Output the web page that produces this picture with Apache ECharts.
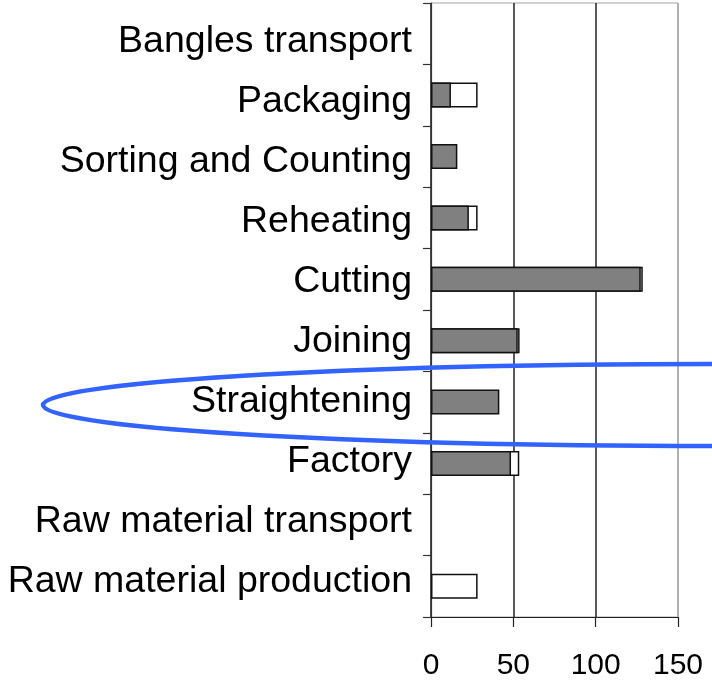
<!DOCTYPE html>
<html>
<head>
<meta charset="utf-8">
<script src="https://cdn.jsdelivr.net/npm/echarts@6/dist/echarts.min.js"></script>
<style>
html, body { margin: 0; padding: 0; background: #fff; }
#chart { width: 712px; height: 684px; }
</style>
</head>
<body>
<div id="chart"></div>
<script>
// categories from bottom to top
var stages = ['Raw material production', 'Raw material transport', 'Factory', 'Straightening',
	'Joining', 'Cutting', 'Reheating', 'Sorting and Counting', 'Packaging', 'Bangles transport'];
// white bars (drawn behind)
var openValues = [28.3, '-', 53.6, '-', 53.8, 128.6, 28.3, '-', 28.3, '-'];
// grey bars (drawn in front)
var greyValues = ['-', '-', 48.6, 41.5, 52.7, 127.4, 23, 16, 12.1, '-'];
var xTicks = [0, 150, 50];

var myChart = echarts.init(document.getElementById('chart'));
var font = '"Liberation Sans", Arial, sans-serif';

// the labels sit a little tighter than the bands, so nudge each one
var labelStyles = {};
for (var i = 0; i < stages.length; i++) {
	var s = 1.5 + (i - 4.5) * 1.45;
	labelStyles['r' + i] = {
		fontSize: 37.5,
		color: '#000',
		fontFamily: font,
		padding: s >= 0 ? [2 * s, 0, 0, 0] : [0, 0, -2 * s, 0]
	};
}

var option = {
	animation: false,
	grid: {
		left: 431,
		right: 34,
		top: 3,
		bottom: 67,
		show: true,
		borderColor: '#a6a6a6',
		borderWidth: 1
	},
	xAxis: {
		type: 'value',
		min: xTicks[0],
		max: xTicks[1],
		interval: xTicks[2],
		axisLine: { show: true, lineStyle: { color: '#222', width: 1.2 } },
		axisTick: { show: true, length: 10, lineStyle: { color: '#222', width: 1.2 } },
		axisLabel: { margin: 34, fontSize: 30, color: '#000', fontFamily: font },
		splitLine: {
			show: true,
			lineStyle: { color: ['#222', '#222', '#222', '#a6a6a6'], width: 1.5 }
		}
	},
	yAxis: {
		type: 'category',
		data: stages,
		axisLine: { show: true, lineStyle: { color: '#333', width: 1.2 } },
		axisTick: { show: true, length: 8, lineStyle: { color: '#333', width: 1.2 } },
		axisLabel: {
			margin: 19,
			formatter: function (v, idx) { return '{r' + idx + '|' + v + '}'; },
			rich: labelStyles
		},
		splitLine: { show: false }
	},
	series: [
		{
			type: 'bar',
			data: openValues,
			barWidth: 25,
			barGap: '-100%',
			itemStyle: { color: '#fff', borderColor: '#111', borderWidth: 1.5 }
		},
		{
			type: 'bar',
			data: greyValues,
			barWidth: 25,
			barGap: '-100%',
			itemStyle: { color: '#808080', borderColor: '#111', borderWidth: 1.5 }
		}
	],
	graphic: [{
		type: 'ellipse',
		z: 100,
		shape: { cx: 713, cy: 405, rx: 670, ry: 41 },
		style: { fill: 'none', stroke: '#3263ff', lineWidth: 4.5 }
	}]
};
myChart.setOption(option);
</script>
</body>
</html>
